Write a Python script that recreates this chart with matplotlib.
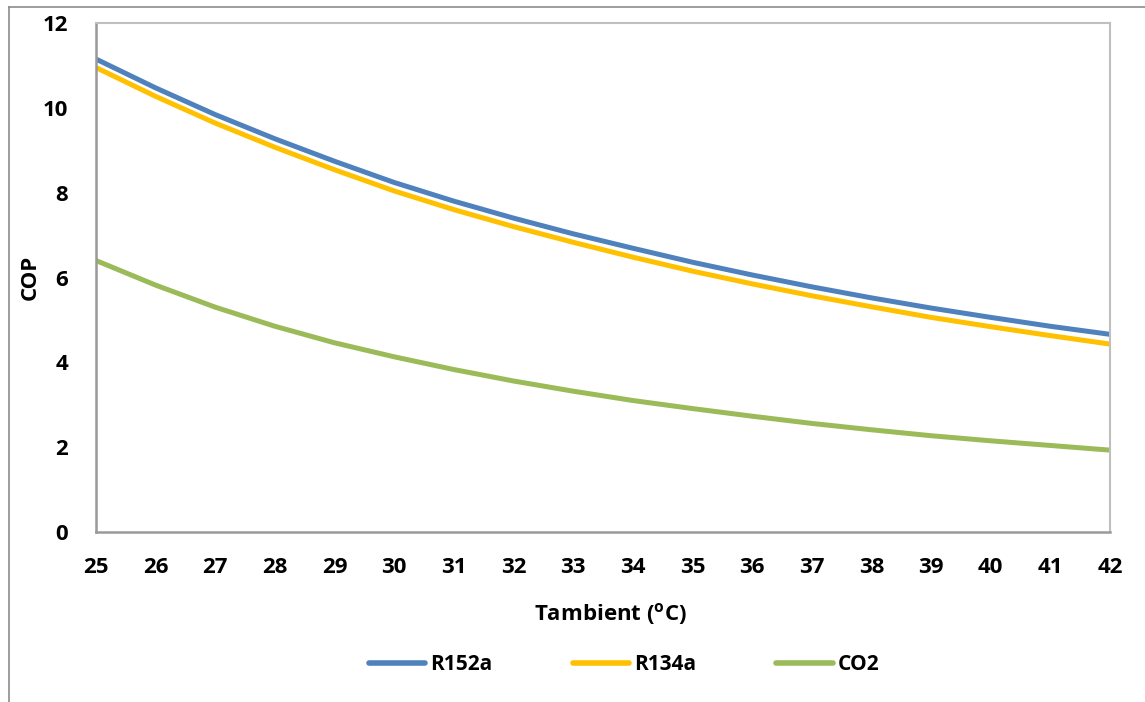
import matplotlib
matplotlib.use("Agg")
import matplotlib.pyplot as plt
from matplotlib.lines import Line2D

# values
tambient = [25, 26, 27, 28, 29, 30, 31, 32, 33, 34, 35, 36, 37, 38, 39, 40, 41, 42]
cop_r152a = [11.15, 10.47, 9.84, 9.27, 8.74, 8.24, 7.80, 7.40, 7.03, 6.69,
             6.36, 6.06, 5.78, 5.52, 5.28, 5.06, 4.85, 4.66]
cop_r134a = [10.95, 10.27, 9.64, 9.07, 8.54, 8.04, 7.60, 7.20, 6.83, 6.48,
             6.15, 5.85, 5.57, 5.31, 5.06, 4.84, 4.63, 4.43]
cop_co2 = [6.40, 5.82, 5.30, 4.85, 4.46, 4.13, 3.83, 3.56, 3.32, 3.10,
           2.91, 2.73, 2.56, 2.41, 2.27, 2.15, 2.04, 1.93]

FONT = 'Open Sans'
plt.rcParams['font.family'] = [FONT, 'DejaVu Sans']
plt.rcParams['font.weight'] = 'bold'
plt.rcParams['mathtext.fontset'] = 'custom'
plt.rcParams['mathtext.rm'] = FONT + ':bold'
plt.rcParams['mathtext.bf'] = FONT + ':bold'
plt.rcParams['mathtext.it'] = FONT + ':bold'

W, H = 1145, 702
fig = plt.figure(figsize=(W / 100, H / 100), dpi=100)
ax = fig.add_axes([96 / W, 1 - 532 / H, (1110 - 96) / W, (532 - 23) / H])

ax.plot(tambient, cop_r152a, color='#4F81BD', lw=3.6, label='R152a', solid_capstyle='butt')
ax.plot(tambient, cop_r134a, color='#FFC000', lw=3.6, label='R134a', solid_capstyle='butt')
ax.plot(tambient, cop_co2, color='#9BBB59', lw=3.6, label='CO2', solid_capstyle='butt')

ax.set_xlim(25, 42)
ax.set_ylim(0, 12)
ax.set_xticks(tambient)
ax.set_yticks(range(0, 13, 2))
ax.tick_params(length=0, labelsize=16, pad=18)
ax.tick_params(axis='y', pad=20)
for lab in ax.get_xticklabels() + ax.get_yticklabels():
    lab.set_fontweight('bold')

for s in ['left', 'bottom']:
    ax.spines[s].set_color('#999999')
    ax.spines[s].set_linewidth(1.8)
for s in ['top', 'right']:
    ax.spines[s].set_color('#BFBFBF')
    ax.spines[s].set_linewidth(1.5)

ax.set_ylabel('COP', fontsize=16, fontweight='bold')
ax.yaxis.set_label_coords(-0.054, 0.5)
ax.set_xlabel(r'Tambient ($\mathregular{^o}$C)', fontsize=16, fontweight='bold')
ax.xaxis.set_label_coords(0.507, -0.136)

handles = [Line2D([], [], color=c, lw=4, solid_capstyle='round')
           for c in ['#4F81BD', '#FFC000', '#9BBB59']]
fig.legend(handles, ['R152a', 'R134a', 'CO2'], loc='center', ncol=3,
           bbox_to_anchor=(624 / W, 1 - 665 / H), frameon=False,
           prop={'size': 15, 'weight': 'bold'}, handlelength=2.7,
           handletextpad=0.25, columnspacing=3.85)

# outer chart border (left and top)
fig.add_artist(Line2D([9 / W, 9 / W], [0, 1 - 7 / H], color='#8C8C8C', lw=1.2))
fig.add_artist(Line2D([9 / W, 1], [1 - 7 / H, 1 - 7 / H], color='#8C8C8C', lw=1.2))

fig.savefig('out.png', dpi=100)
